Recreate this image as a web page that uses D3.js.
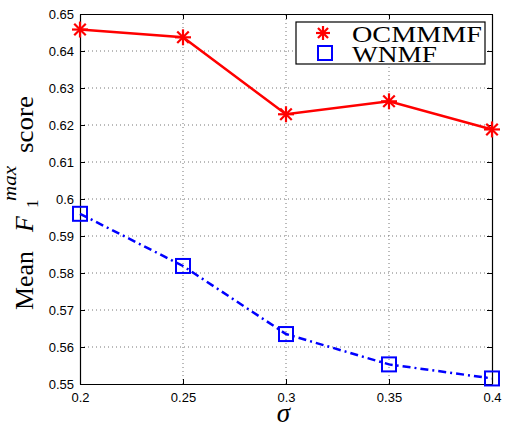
<!DOCTYPE html>
<html>
<head>
<meta charset="utf-8">
<script src="https://cdn.jsdelivr.net/npm/d3@7"></script>
<style>
  body { margin: 0; background: #fff; }
  svg { display: block; }
</style>
</head>
<body>
<div id="chart"></div>
<script>
// data
const sigma = [0.2, 0.25, 0.3, 0.35, 0.4];
const ocmmmf = [0.6458, 0.6437, 0.6229, 0.6264, 0.6188];
const wnmf = [0.5960, 0.5819, 0.5635, 0.5553, 0.5515];
const xTicks = [0.2, 0.25, 0.3, 0.35, 0.4];
const yTicks = [0.55, 0.56, 0.57, 0.58, 0.59, 0.6, 0.61, 0.62, 0.63, 0.64, 0.65];
const seriesNames = ["OCMMMF", "WNMF"];

// 1) dimensions
const width = 507;
const height = 426;
const margin = { top: 14, right: 15, bottom: 42, left: 80 };

const svg = d3.select("#chart")
  .append("svg")
  .attr("width", width)
  .attr("height", height);

// 2) scales
const x = d3.scaleLinear()
  .domain([0.2, 0.4])
  .range([margin.left, width - margin.right]);

const y = d3.scaleLinear()
  .domain([0.55, 0.65])
  .range([height - margin.bottom, margin.top]);

const fmt = d => String(+d.toFixed(2));

// 3) dotted grid
svg.append("g")
  .selectAll("line")
  .data(xTicks.slice(1, -1))
  .enter().append("line")
    .attr("x1", d => x(d)).attr("x2", d => x(d))
    .attr("y1", y.range()[0]).attr("y2", y.range()[1])
    .attr("stroke", "#777")
    .attr("stroke-dasharray", "1,3");

svg.append("g")
  .selectAll("line")
  .data(yTicks.slice(1, -1))
  .enter().append("line")
    .attr("x1", x.range()[0]).attr("x2", x.range()[1])
    .attr("y1", d => y(d)).attr("y2", d => y(d))
    .attr("stroke", "#777")
    .attr("stroke-dasharray", "1,3");

// 4) axes (matlab box, ticks pointing in)
function styleAxis(g) {
  g.select(".domain").attr("stroke", "#000").attr("stroke-width", 1.2);
  g.selectAll(".tick line").attr("stroke", "#000");
  g.selectAll("text")
    .attr("font-family", "Liberation Sans, Arial, sans-serif")
    .attr("font-size", 13)
    .attr("fill", "#000");
}

svg.append("g")
  .attr("transform", `translate(0, ${height - margin.bottom})`)
  .call(d3.axisBottom(x).tickValues(xTicks).tickFormat(fmt).tickSizeInner(-5).tickSizeOuter(0).tickPadding(9))
  .call(styleAxis);

svg.append("g")
  .attr("transform", `translate(0, ${margin.top})`)
  .call(d3.axisTop(x).tickValues(xTicks).tickFormat("").tickSizeInner(-5).tickSizeOuter(0))
  .call(styleAxis);

svg.append("g")
  .attr("transform", `translate(${margin.left}, 0)`)
  .call(d3.axisLeft(y).tickValues(yTicks).tickFormat(fmt).tickSizeInner(-5).tickSizeOuter(0).tickPadding(6))
  .call(styleAxis);

svg.append("g")
  .attr("transform", `translate(${width - margin.right}, 0)`)
  .call(d3.axisRight(y).tickValues(yTicks).tickFormat("").tickSizeInner(-5).tickSizeOuter(0))
  .call(styleAxis);

// 5) lines
const line = d3.line()
  .x((d, i) => x(sigma[i]))
  .y(d => y(d));

svg.append("path")
  .datum(wnmf)
  .attr("fill", "none")
  .attr("stroke", "#0000ff")
  .attr("stroke-width", 2.5)
  .attr("stroke-dasharray", "8,4,2,4")
  .attr("d", line);

svg.append("path")
  .datum(ocmmmf)
  .attr("fill", "none")
  .attr("stroke", "#ff0000")
  .attr("stroke-width", 2.5)
  .attr("d", line);

// 6) markers
function star(g, cx, cy, r) {
  const d = r * 0.72;
  const segs = [[-r, 0, r, 0], [0, -r, 0, r], [-d, -d, d, d], [-d, d, d, -d]];
  segs.forEach(s => {
    g.append("line")
      .attr("x1", cx + s[0]).attr("y1", cy + s[1])
      .attr("x2", cx + s[2]).attr("y2", cy + s[3])
      .attr("stroke", "#ff0000")
      .attr("stroke-width", 2.2);
  });
}

const starG = svg.append("g");
ocmmmf.forEach((v, i) => star(starG, x(sigma[i]), y(v), 8));

svg.append("g")
  .selectAll("rect")
  .data(wnmf)
  .enter().append("rect")
    .attr("x", (d, i) => x(sigma[i]) - 7)
    .attr("y", d => y(d) - 7)
    .attr("width", 14)
    .attr("height", 14)
    .attr("fill", "none")
    .attr("stroke", "#0000ff")
    .attr("stroke-width", 2);

// 7) legend
const lg = svg.append("g");
lg.append("rect")
  .attr("x", 296).attr("y", 22)
  .attr("width", 189).attr("height", 42)
  .attr("fill", "#fff")
  .attr("stroke", "#000")
  .attr("stroke-width", 1.2);

star(lg, 323, 33, 7);
lg.append("rect")
  .attr("x", 318).attr("y", 46)
  .attr("width", 14).attr("height", 14)
  .attr("fill", "none")
  .attr("stroke", "#0000ff")
  .attr("stroke-width", 2);

lg.selectAll("text")
  .data(seriesNames)
  .enter().append("text")
    .attr("x", 352)
    .attr("y", (d, i) => 41.5 + i * 20)
    .attr("font-family", "Liberation Serif, serif")
    .attr("font-size", 23)
    .attr("textLength", (d, i) => i === 0 ? 130 : 85)
    .attr("lengthAdjust", "spacingAndGlyphs")
    .text(d => d);

// 8) axis labels
svg.append("text")
  .attr("x", 283.5)
  .attr("y", 421.5)
  .attr("text-anchor", "middle")
  .attr("font-family", "Liberation Serif, serif")
  .attr("font-style", "italic")
  .attr("font-size", 27)
  .text("σ");

// y label, laid out piece by piece along the rotated baseline
const yl = svg.append("g")
  .attr("transform", "translate(33.3, 310) rotate(-90)")
  .attr("font-family", "Liberation Serif, serif");

yl.append("text").attr("x", 0).attr("font-size", 26)
  .attr("textLength", 59).attr("lengthAdjust", "spacingAndGlyphs").text("Mean");
yl.append("text").attr("x", 78).attr("font-size", 26).attr("font-style", "italic").text("F");
yl.append("text").attr("x", 102).attr("y", 5).attr("font-size", 17).text("1");
yl.append("text").attr("x", 109).attr("y", -17).attr("font-size", 18).attr("font-style", "italic")
  .attr("textLength", 35).attr("lengthAdjust", "spacingAndGlyphs").text("max");
yl.append("text").attr("x", 157).attr("font-size", 26)
  .attr("textLength", 57).attr("lengthAdjust", "spacingAndGlyphs").text("score");
</script>
</body>
</html>
